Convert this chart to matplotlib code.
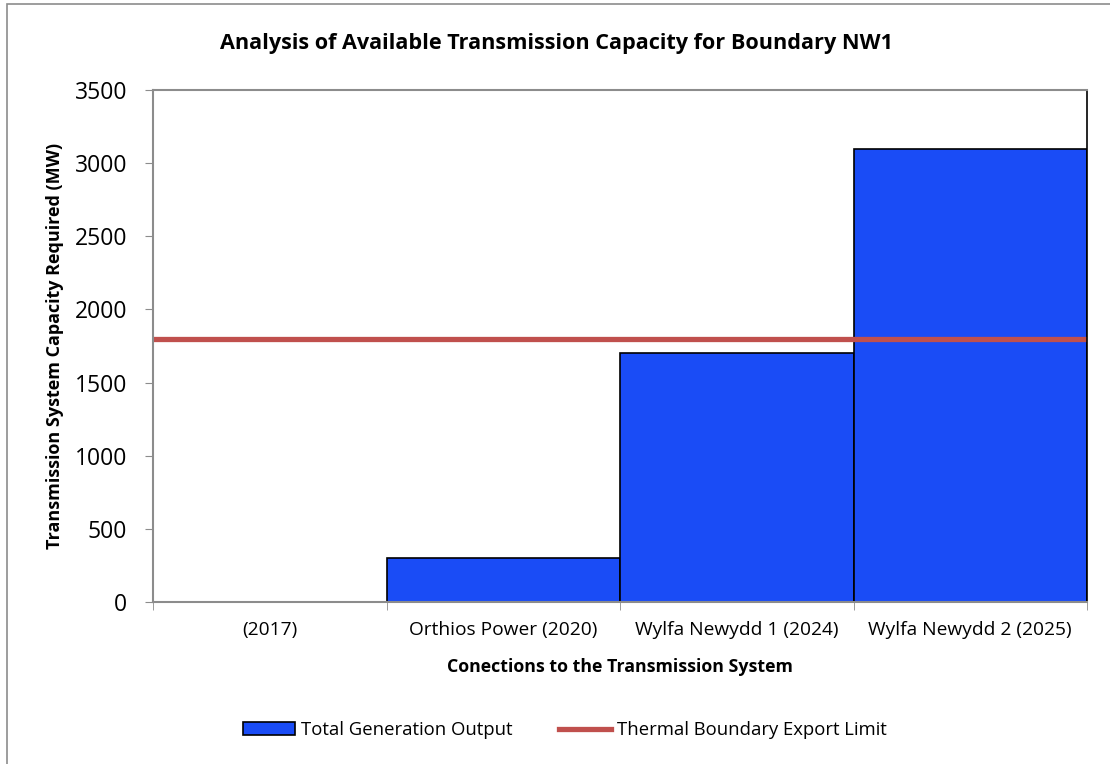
import matplotlib.pyplot as plt
from matplotlib.patches import Rectangle, Patch
from matplotlib.lines import Line2D

# ---- data ----
categories = ["(2017)", "Orthios Power (2020)", "Wylfa Newydd 1 (2024)", "Wylfa Newydd 2 (2025)"]
generation_mw = [0, 300, 1700, 3100]
export_limit_mw = 1800

plt.rcParams["font.family"] = ["Open Sans", "DejaVu Sans"]

W, H = 1110, 764
fig = plt.figure(figsize=(W / 100, H / 100), dpi=100)
ax = fig.add_axes([153 / W, 1 - 602 / H, (1087 - 153) / W, (602 - 90) / H])

# outer chart border (left and top edges visible in the reference)
fig.patches.append(Rectangle((7 / W, -0.1), 1.2, 1 - 4 / H + 0.1,
                             transform=fig.transFigure, fill=False,
                             edgecolor="#8c8c8c", linewidth=1.2))

x = range(len(categories))
ax.bar(x, generation_mw, width=1.0, color="#1a4cf6", edgecolor="black", linewidth=1.2)
ax.axhline(export_limit_mw, color="#c0504d", linewidth=3.8)

ax.set_xlim(-0.5, len(categories) - 0.5)
ax.set_ylim(0, 3500)
ax.set_yticks(range(0, 3501, 500))
ax.set_xticks(x)
ax.set_xticklabels(categories, fontsize=13.8)
ax.set_xticks([i - 0.5 for i in range(len(categories) + 1)], minor=True)
ax.tick_params(axis="x", which="major", length=0, pad=14)
ax.tick_params(axis="x", which="minor", length=6, color="#8c8c8c", direction="out")
ax.tick_params(axis="y", length=6, color="#8c8c8c", labelsize=16.5, pad=12.5)

for side in ["left", "bottom", "top"]:
    ax.spines[side].set_color("#8c8c8c")
    ax.spines[side].set_linewidth(1.5)
ax.spines["right"].set_color("black")
ax.spines["right"].set_linewidth(1.2)

fig.text(556 / W, 1 - 43 / H, "Analysis of Available Transmission Capacity for Boundary NW1",
         fontsize=15.6, fontweight="bold", ha="center", va="center")
ax.set_xlabel("Conections to the Transmission System", fontsize=12.8, fontweight="bold", labelpad=13)
ax.set_ylabel("Transmission System Capacity Required (MW)", fontsize=13, fontweight="bold", labelpad=8)

handles = [Patch(facecolor="#1a4cf6", edgecolor="black", linewidth=1.2),
           Line2D([], [], color="#c0504d", linewidth=3.8)]
fig.legend(handles, ["Total Generation Output", "Thermal Boundary Export Limit"],
           loc="center", bbox_to_anchor=(565 / W, 1 - 730 / H), ncol=2,
           frameon=False, fontsize=13.3, handlelength=2.8, handleheight=0.7,
           columnspacing=2.5, handletextpad=0.35)

fig.savefig("out.png", dpi=100)
